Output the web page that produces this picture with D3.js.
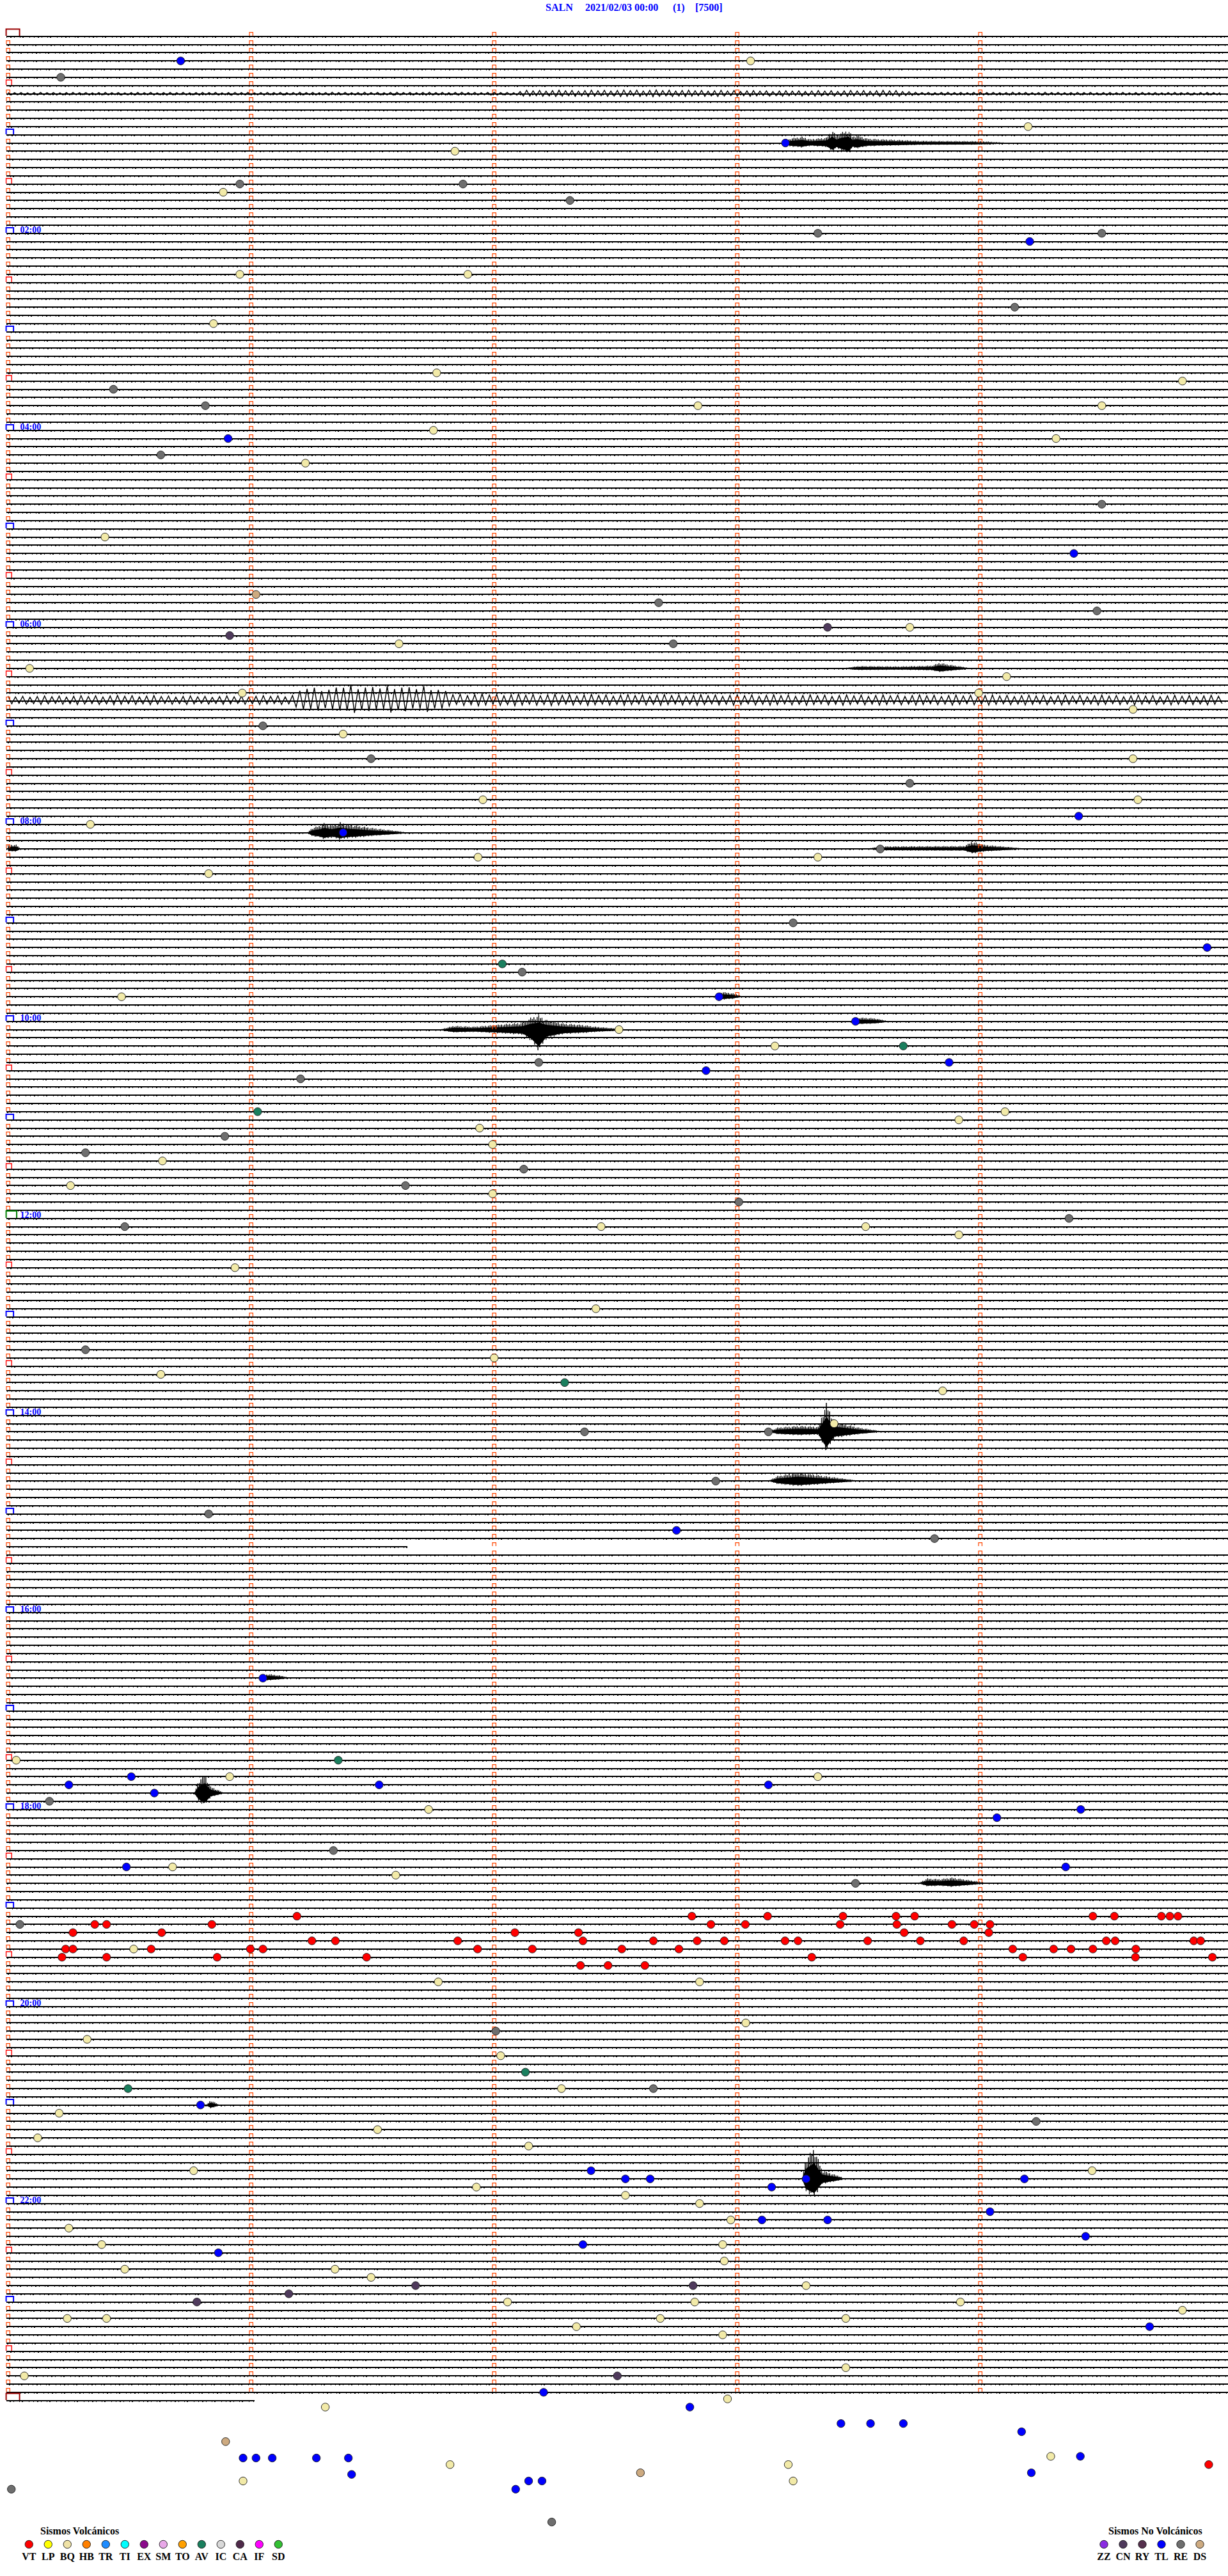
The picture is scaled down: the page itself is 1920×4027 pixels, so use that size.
<!DOCTYPE html>
<html>
<head>
<meta charset="utf-8">
<script src="https://cdn.jsdelivr.net/npm/d3@7"></script>
<style>
body { margin: 0; background: #fff; }
svg { display: block; }
text { font-family: "Liberation Serif", "Times New Roman", serif; font-weight: bold; }
</style>
</head>
<body>
<div id="chart"></div>
<script>
// helicorder SALN 2021/02/03, 5 min per line, 289 lines
const station = 'SALN'
const dateLabel = '2021/02/03 00:00'
const channelLabel = '(1)'
const scaleLabel = '[7500]'
const lineCount = 289
const lineSeconds = 300
const lastLineEnd = 60.8

const hourLabelLines = [24, 48, 72, 96, 120, 144, 168, 192, 216, 240, 264]
const hourLabels = ['02:00', '04:00', '06:00', '08:00', '10:00', '12:00', '14:00', '16:00', '18:00', '20:00', '22:00']

// data gaps: [line, from second, to second]
const gaps = [[184, 98.6, 301.2]]

// [line, second in line, type]
const picks = [
    [3, 42.6, 'TL'], [5, 13.0, 'RE'], [3, 183.3, 'BQ'], [11, 251.8, 'BQ'], [13, 191.9, 'TL'],
    [14, 110.3, 'BQ'], [18, 57.2, 'RE'], [18, 112.3, 'RE'], [19, 53.1, 'BQ'], [20, 138.7, 'RE'],
    [24, 199.9, 'RE'], [25, 252.2, 'TL'], [24, 270.0, 'RE'], [29, 57.2, 'BQ'], [29, 113.5, 'BQ'],
    [33, 248.5, 'RE'], [35, 50.7, 'BQ'], [41, 105.8, 'BQ'], [43, 26.0, 'RE'], [45, 170.3, 'BQ'],
    [45, 48.7, 'RE'], [45, 270.0, 'BQ'], [42, 289.9, 'BQ'], [48, 105.0, 'BQ'], [49, 54.3, 'TL'],
    [49, 258.7, 'BQ'], [51, 37.7, 'RE'], [52, 73.4, 'BQ'], [57, 270.0, 'RE'], [61, 23.9, 'BQ'],
    [63, 263.1, 'TL'], [69, 160.6, 'RE'], [70, 268.8, 'RE'], [68, 61.2, 'DS'], [73, 54.7, 'CN'],
    [72, 202.3, 'CN'], [72, 222.6, 'BQ'], [74, 96.5, 'BQ'], [74, 164.2, 'RE'], [77, 5.3, 'BQ'],
    [78, 246.5, 'BQ'], [80, 239.6, 'BQ'], [80, 57.8, 'BQ'], [82, 277.7, 'BQ'], [84, 62.9, 'RE'],
    [85, 82.7, 'BQ'], [88, 89.6, 'RE'], [88, 277.7, 'BQ'], [93, 117.2, 'BQ'], [91, 222.6, 'RE'],
    [95, 264.3, 'TL'], [93, 278.9, 'BQ'], [96, 20.3, 'BQ'], [97, 82.7, 'TL'], [100, 116.0, 'BQ'],
    [100, 199.9, 'BQ'], [99, 215.3, 'RE'], [102, 49.5, 'BQ'], [108, 193.8, 'RE'], [111, 296.0, 'TL'],
    [113, 122.0, 'AV'], [114, 126.9, 'RE'], [117, 28.0, 'BQ'], [117, 175.5, 'TL'], [120, 209.2, 'TL'],
    [123, 221.0, 'AV'], [125, 131.0, 'RE'], [121, 150.8, 'BQ'], [123, 189.3, 'BQ'], [126, 172.3, 'TL'],
    [125, 232.3, 'TL'], [127, 72.2, 'RE'], [131, 246.1, 'BQ'], [131, 61.6, 'AV'], [132, 234.7, 'BQ'],
    [133, 116.4, 'BQ'], [134, 53.5, 'RE'], [135, 119.6, 'BQ'], [136, 19.1, 'RE'], [137, 38.1, 'BQ'],
    [138, 127.3, 'RE'], [140, 15.4, 'BQ'], [140, 98.1, 'RE'], [141, 119.6, 'BQ'], [142, 180.4, 'RE'],
    [144, 261.9, 'RE'], [145, 28.8, 'RE'], [145, 146.4, 'BQ'], [145, 211.7, 'BQ'], [146, 234.7, 'BQ'],
    [150, 56.0, 'BQ'], [155, 145.1, 'BQ'], [160, 19.1, 'RE'], [161, 120.0, 'BQ'], [164, 137.4, 'AV'],
    [163, 37.7, 'BQ'], [165, 230.7, 'BQ'], [169, 203.9, 'BQ'], [170, 142.3, 'RE'], [170, 187.7, 'RE'],
    [176, 174.7, 'RE'], [180, 49.5, 'RE'], [182, 165.0, 'TL'], [183, 228.7, 'RE'], [200, 62.9, 'TL'],
    [210, 81.5, 'AV'], [210, 2.0, 'BQ'], [212, 30.4, 'TL'], [213, 15.0, 'TL'], [212, 54.7, 'BQ'],
    [213, 91.6, 'TL'], [214, 36.1, 'TL'], [213, 187.7, 'TL'], [212, 199.9, 'BQ'], [215, 10.2, 'RE'],
    [216, 103.8, 'BQ'], [217, 244.1, 'TL'], [216, 264.8, 'TL'], [223, 29.2, 'TL'], [223, 40.6, 'BQ'],
    [221, 80.3, 'RE'], [223, 261.1, 'TL'], [224, 95.7, 'BQ'], [225, 209.2, 'RE'],
    [229, 71.3, 'VT'], [229, 168.8, 'VT'], [229, 187.5, 'VT'], [229, 206.1, 'VT'], [229, 219.2, 'VT'],
    [229, 223.8, 'VT'], [229, 267.8, 'VT'], [229, 273.1, 'VT'], [229, 284.7, 'VT'], [229, 286.8, 'VT'],
    [229, 288.8, 'VT'],
    [230, 2.9, 'RE'], [230, 21.4, 'VT'], [230, 24.3, 'VT'], [230, 50.3, 'VT'], [230, 173.5, 'VT'],
    [230, 182.0, 'VT'], [230, 205.4, 'VT'], [230, 219.4, 'VT'], [230, 233.0, 'VT'], [230, 238.5, 'VT'],
    [230, 242.4, 'VT'],
    [231, 16.0, 'VT'], [231, 37.9, 'VT'], [231, 125.1, 'VT'], [231, 140.8, 'VT'], [231, 221.2, 'VT'],
    [231, 242.1, 'VT'],
    [232, 75.0, 'VT'], [232, 80.8, 'VT'], [232, 111.0, 'VT'], [232, 141.9, 'VT'], [232, 159.3, 'VT'],
    [232, 170.1, 'VT'], [232, 176.8, 'VT'], [232, 191.8, 'VT'], [232, 195.0, 'VT'], [232, 212.2, 'VT'],
    [232, 225.2, 'VT'], [232, 235.9, 'VT'], [232, 271.1, 'VT'], [232, 273.3, 'VT'], [232, 292.7, 'VT'],
    [232, 294.4, 'VT'],
    [233, 14.2, 'VT'], [233, 16.0, 'VT'], [233, 31.0, 'BQ'], [233, 35.3, 'VT'], [233, 59.8, 'VT'],
    [233, 62.9, 'VT'], [233, 115.9, 'VT'], [233, 129.4, 'VT'], [233, 151.5, 'VT'], [233, 165.6, 'VT'],
    [233, 248.0, 'VT'], [233, 258.1, 'VT'], [233, 262.4, 'VT'], [233, 267.8, 'VT'], [233, 278.4, 'VT'],
    [234, 13.3, 'VT'], [234, 24.3, 'VT'], [234, 51.6, 'VT'], [234, 88.5, 'VT'], [234, 198.4, 'VT'],
    [234, 250.5, 'VT'], [234, 278.3, 'VT'], [234, 297.3, 'VT'],
    [235, 141.3, 'VT'], [235, 148.1, 'VT'], [235, 157.2, 'VT'],
    [237, 106.2, 'BQ'], [237, 170.7, 'BQ'], [242, 182.1, 'BQ'], [244, 19.5, 'BQ'], [243, 120.4, 'RE'],
    [246, 121.6, 'BQ'], [248, 127.7, 'AV'], [250, 29.6, 'AV'], [250, 136.6, 'BQ'], [252, 47.5, 'TL'],
    [250, 159.3, 'RE'], [254, 253.8, 'RE'], [253, 12.6, 'BQ'], [255, 91.2, 'BQ'], [256, 7.3, 'BQ'],
    [257, 128.5, 'BQ'], [260, 143.9, 'TL'], [261, 152.4, 'TL'], [261, 158.5, 'TL'], [260, 45.8, 'BQ'],
    [262, 115.6, 'BQ'], [263, 152.4, 'BQ'], [262, 188.5, 'TL'], [261, 197.0, 'TL'], [261, 250.9, 'TL'],
    [260, 267.6, 'BQ'], [264, 170.7, 'BQ'], [266, 178.4, 'BQ'], [266, 186.1, 'TL'], [266, 202.3, 'TL'],
    [265, 242.4, 'TL'], [267, 15.0, 'BQ'], [269, 23.1, 'BQ'], [269, 141.9, 'TL'], [270, 51.9, 'TL'],
    [269, 176.4, 'BQ'], [268, 266.0, 'TL'], [272, 28.8, 'BQ'], [272, 80.7, 'BQ'], [271, 176.8, 'BQ'],
    [273, 89.6, 'BQ'], [274, 100.6, 'CN'], [274, 169.1, 'CN'], [274, 197.0, 'BQ'], [275, 69.3, 'CN'],
    [276, 46.6, 'CN'], [276, 123.3, 'BQ'], [276, 169.5, 'BQ'], [276, 235.1, 'BQ'], [278, 14.6, 'BQ'],
    [278, 24.3, 'BQ'], [279, 281.8, 'TL'], [279, 140.3, 'BQ'], [278, 161.0, 'BQ'], [280, 176.4, 'BQ'],
    [278, 206.8, 'BQ'], [277, 289.9, 'BQ'], [285, 150.4, 'CN'], [285, 4.0, 'BQ'], [284, 206.8, 'BQ'],
    [287, 132.2, 'TL'],
    // picks placed below the last trace
    [288.8, 168.3, 'TL'], [287.8, 177.6, 'BQ'], [288.8, 78.3, 'BQ'], [293.0, 53.7, 'DS'],
    [295.0, 58.0, 'TL'], [295.0, 61.2, 'TL'], [295.0, 65.2, 'TL'], [295.0, 76.1, 'TL'], [295.0, 84.0, 'TL'],
    [297.0, 84.8, 'TL'], [290.8, 205.6, 'TL'], [290.8, 212.9, 'TL'], [290.8, 221.0, 'TL'], [291.8, 250.2, 'TL'],
    [294.8, 257.4, 'BQ'], [294.8, 264.7, 'TL'], [296.8, 252.6, 'TL'], [295.8, 109.1, 'BQ'], [295.8, 192.6, 'BQ'],
    [297.8, 193.8, 'BQ'], [297.8, 58.0, 'BQ'], [295.8, 296.4, 'VT'], [297.8, 128.5, 'TL'], [297.8, 131.8, 'TL'],
    [298.8, 125.3, 'TL'], [296.8, 156.1, 'DS'], [298.8, 0.8, 'RE'], [302.8, 134.2, 'RE']
]

// signal bursts: line, half period (s), envelope [second, amplitude up, amplitude down] in line spacings
const bursts = [
    { line: 7, half: 0.8, env: [[0, 0.2], [125, 0.22], [128, 0.45], [160, 0.5], [190, 0.4], [220, 0.45], [224, 0.22], [300, 0.2]] },
    { line: 13, half: 0.2, env: [[192, 0.1], [193, 0.6], [196, 0.8], [198, 0.5], [202, 0.7], [203.5, 1.6], [204.5, 0.9], [205.5, 1.3], [207.5, 1.6, 1.9], [208.5, 0.8], [209.5, 1.0], [212, 0.6], [215, 0.5], [218, 0.45], [225, 0.3], [240, 0.25], [246, 0.1]] },
    { line: 77, half: 0.2, env: [[207, 0.1], [210, 0.3], [220, 0.25], [228, 0.35], [230, 0.7], [232, 0.5], [237, 0.1]] },
    { line: 81, half: 0.9, env: [[0, 0.6], [30, 0.7], [50, 0.6], [70, 0.7], [74, 1.8, 2.2], [80, 1.5], [84, 2.1, 2.6], [90, 1.7], [95, 2.0, 2.4], [100, 1.6], [103, 2.0, 2.3], [107, 1.4], [110, 0.9], [150, 0.8], [300, 0.7]] },
    { line: 97, half: 0.2, env: [[74, 0.1], [75, 0.6], [77, 0.9], [78, 1.2], [80, 0.9], [82, 1.3], [84, 1.0], [86, 0.9], [90, 0.6], [95, 0.3], [98, 0.1]] },
    { line: 99, half: 0.2, env: [[0, 0.5], [2, 0.5], [3, 0.1]] },
    { line: 99, half: 0.2, env: [[213, 0.1], [215, 0.3], [236, 0.35], [238, 0.9], [241, 0.5], [250, 0.1]] },
    { line: 117, half: 0.2, env: [[175, 0.1], [176, 0.6], [179, 0.4], [181, 0.1]] },
    { line: 121, half: 0.2, env: [[107, 0.1], [110, 0.5], [115, 0.4], [120, 0.6], [127, 0.9], [129, 1.5, 2.0], [131, 1.8, 4.0], [133, 1.2, 1.6], [137, 0.8], [142, 0.6], [145, 0.4], [152, 0.1]] },
    { line: 120, half: 0.2, env: [[209, 0.1], [210, 0.5], [214, 0.4], [217, 0.1]] },
    { line: 170, half: 0.2, env: [[188, 0.1], [190, 0.5], [195, 0.7], [200, 0.6], [202, 3.5, 3.8], [204, 1.2], [210, 0.5], [215, 0.1]] },
    { line: 176, half: 0.2, env: [[188, 0.1], [190, 0.6], [195, 1.0], [200, 0.7], [209, 0.1]] },
    { line: 200, half: 0.2, env: [[63, 0.1], [64, 0.5], [67, 0.3], [69, 0.1]] },
    { line: 214, half: 0.2, env: [[46, 0.1], [47, 1.5], [48.5, 2.4], [50, 0.8], [53, 0.1]] },
    { line: 225, half: 0.2, env: [[225, 0.1], [227, 0.6], [230, 0.5], [233, 0.7], [241, 0.1]] },
    { line: 252, half: 0.2, env: [[49, 0.1], [50, 0.6], [52, 0.1]] },
    { line: 261, half: 0.2, env: [[196, 0.1], [197, 2.5], [199, 3.8, 3.5], [201, 1.0], [206, 0.2]] }
]

const volcTypes = ['VT', 'LP', 'BQ', 'HB', 'TR', 'TI', 'EX', 'SM', 'TO', 'AV', 'IC', 'CA', 'IF', 'SD']
const volcColors = ['#ff0000', '#ffff00', '#efe2a6', '#ff8000', '#1e8cff', '#00ffff', '#8b0a8b', '#e8a8e8', '#ffa000', '#1a7f5e', '#d8d8d8', '#4f2a4a', '#ff00ff', '#33c033']
const nonVolcTypes = ['ZZ', 'CN', 'RY', 'TL', 'RE', 'DS']
const nonVolcColors = ['#8a2be2', '#4f3a5c', '#55304d', '#0000ff', '#6e6e6e', '#cdaa80']

const pickColor = {}
volcTypes.forEach((t, i) => { pickColor[t] = volcColors[i] })
nonVolcTypes.forEach((t, i) => { pickColor[t] = nonVolcColors[i] })
pickColor.BQ = '#f2eaa8'

const width = 1920
const height = 4027

const svg = d3.select('#chart').append('svg')
    .attr('width', width)
    .attr('height', height)

const x = d3.scaleLinear().domain([0, lineSeconds]).range([12.7, 1912.7])
const y = d3.scaleLinear().domain([0, lineCount - 1]).range([56.7, 3752.7])
const amp = d3.scaleLinear().domain([0, 1]).range([0, y(1) - y(0)])
const yl = i => Math.round(y(i))

// title
const title = svg.append('g').attr('fill', '#0000ff').attr('font-size', 16)
title.append('text').attr('x', 853).attr('y', 17).text(station)
title.append('text').attr('x', 915).attr('y', 17).text(dateLabel)
title.append('text').attr('x', 1052).attr('y', 17).text(channelLabel)
title.append('text').attr('x', 1087).attr('y', 17).text(scaleLabel)

// traces (split where data is missing)
const lines = d3.range(lineCount)
const flat = d3.line().x(d => x(d)).y(0)
const pieces = i => {
    const end = i === lineCount - 1 ? lastLineEnd : lineSeconds + 1.2
    let segs = [[-0.4, end]]
    gaps.filter(g => g[0] === i).forEach(g => {
        segs = segs.flatMap(s => [[s[0], Math.min(s[1], g[1])], [Math.max(s[0], g[2]), s[1]]]).filter(s => s[1] > s[0])
    })
    return segs
}
const traces = svg.append('g').attr('class', 'traces').attr('shape-rendering', 'crispEdges')
traces.selectAll('g')
    .data(lines)
    .join('g')
    .attr('transform', i => `translate(0,${yl(i)})`)
    .each(function (i) {
        const g = d3.select(this)
        pieces(i).forEach(seg => {
            g.append('path')
                .attr('d', flat(seg))
                .attr('stroke', '#000')
                .attr('stroke-width', 2)
            g.append('path')
                .attr('d', flat(seg))
                .attr('stroke', '#000')
                .attr('stroke-width', 3)
                .attr('stroke-dasharray', '1 5 2 4 1 8 1 3 2 9 1 6')
                .attr('stroke-dashoffset', (i * 23) % 47)
        })
    })

// bursts: dark core plus jagged zig-zag following the envelope
const jag = [1, 0.55, 0.85, 0.45, 0.95, 0.6, 0.75, 0.5, 0.9, 0.65]
const up = d => d[1]
const down = d => d.length > 2 ? d[2] : d[1]
const burstG = svg.append('g').attr('class', 'bursts')
bursts.forEach(b => {
    const envUp = d3.scaleLinear().domain(b.env.map(d => d[0])).range(b.env.map(up))
    const envDown = d3.scaleLinear().domain(b.env.map(d => d[0])).range(b.env.map(down))
    const s0 = b.env[0][0]
    const s1 = b.env[b.env.length - 1][0]
    const base = yl(b.line)
    const dense = b.half < 0.5
    if (dense) {
        burstG.append('path')
            .attr('fill', '#000')
            .attr('d', d3.area().x(d => x(d[0])).y0(d => base - amp(up(d)) * 0.5).y1(d => base + amp(down(d)) * 0.5)(b.env))
    }
    const pts = d3.range(s0, s1, b.half).map((s, k) => {
        const f = jag[k % jag.length]
        return [x(s), k % 2 ? base + amp(envDown(s)) * f : base - amp(envUp(s)) * f]
    })
    burstG.append('path')
        .attr('fill', 'none')
        .attr('stroke', '#000')
        .attr('stroke-width', dense ? 1 : 1.4)
        .attr('d', d3.line()(pts))
})

// minute marks
const marks = svg.append('g').attr('fill', 'none').attr('stroke', '#ff4500').attr('stroke-width', 1.2)
const cap = (x0, w, h, yb) => `M${x0},${yb}V${yb - h}H${x0 + w}V${yb}`
lines.slice(0, lineCount - 1).forEach(i => {
    const minutes = i % 6 === 0 ? [60, 120, 180, 240] : [0, 60, 120, 180, 240]
    minutes.forEach(m => {
        marks.append('path').attr('d', cap(x(m) - 2.7, 5.4, 5.3, yl(i) - 1))
    })
})

// hour / half hour boxes
const boxes = svg.append('g').attr('fill', 'none')
lines.filter(i => i % 6 === 0).forEach(i => {
    let colour = '#ff0000', w = 8.6, h = 8, sw = 1.4
    if (i === 0 || i === lineCount - 1) { colour = '#990000'; w = 21; h = 10.5; sw = 2 }
    else if (i === 144) { colour = '#008000'; w = 16.5; h = 11; sw = 2 }
    else if (i % 12 === 0) { colour = '#0000ff'; w = 11.5; h = 8; sw = 2 }
    boxes.append('path')
        .attr('d', cap(9.6, w, h, yl(i) - 1))
        .attr('stroke', colour)
        .attr('stroke-width', sw)
})

svg.append('g').attr('fill', '#0000ff').attr('font-size', 14)
    .selectAll('text')
    .data(hourLabelLines)
    .join('text')
    .attr('x', 31.5)
    .attr('y', i => yl(i) - 1)
    .text((i, k) => hourLabels[k])

// picks
svg.append('g').attr('class', 'picks')
    .selectAll('circle')
    .data(picks)
    .join('circle')
    .attr('cx', d => x(d[1]))
    .attr('cy', d => y(d[0]))
    .attr('r', 6.2)
    .attr('fill', d => pickColor[d[2]])
    .attr('stroke', '#1a1a1a')
    .attr('stroke-width', 0.9)

// legends
function legend (types, colours, title, x0, titleX) {
    const g = svg.append('g').attr('font-size', 16).attr('fill', '#000')
    g.append('text').attr('x', titleX).attr('y', 3962).text(title)
    g.selectAll('circle')
        .data(types)
        .join('circle')
        .attr('cx', (d, k) => x0 + k * 30)
        .attr('cy', 3977.5)
        .attr('r', 6.2)
        .attr('fill', (d, k) => colours[k])
        .attr('stroke', '#1a1a1a')
        .attr('stroke-width', 0.9)
    g.selectAll('text.lab')
        .data(types)
        .join('text')
        .attr('class', 'lab')
        .attr('x', (d, k) => x0 + k * 30)
        .attr('y', 4002)
        .attr('text-anchor', 'middle')
        .text(d => d)
}
legend(volcTypes, volcColors, 'Sismos Volcánicos', 45.3, 63)
legend(nonVolcTypes, nonVolcColors, 'Sismos No Volcánicos', 1726, 1733)
</script>
</body>
</html>
